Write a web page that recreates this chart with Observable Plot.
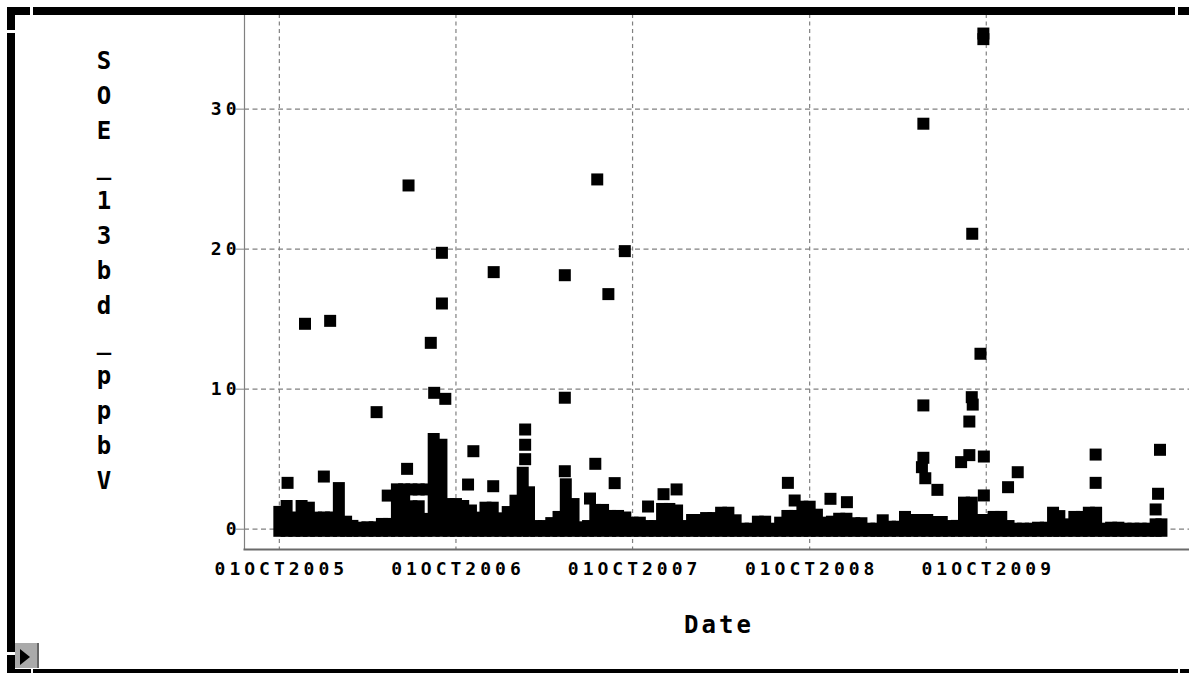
<!DOCTYPE html>
<html><head><meta charset="utf-8">
<script src="https://cdn.jsdelivr.net/npm/d3@7"></script>
<script src="https://cdn.jsdelivr.net/npm/@observablehq/plot@0.6"></script>
<style>
html,body{margin:0;padding:0;background:#fff;}
#wrap{position:relative;width:1189px;height:673px;overflow:hidden;background:#fff;}
#chart{position:absolute;left:0;top:0;}
#chart svg text{letter-spacing:4px;}
.bar{position:absolute;background:#000;}
.gap{position:absolute;background:#fff;}
#ylab{position:absolute;left:92px;top:44px;width:24px;font-family:"DejaVu Sans Mono",monospace;font-size:24px;font-weight:bold;line-height:35px;text-align:center;color:#000;white-space:pre;}
#xlab{position:absolute;left:619px;top:613px;width:200px;font-family:"DejaVu Sans Mono",monospace;font-size:24px;font-weight:bold;line-height:24px;text-align:center;letter-spacing:3px;color:#000;}
#btn{position:absolute;left:15px;top:643px;width:22px;height:25px;background:#aaa;border-right:2px solid #666;}
#tri{position:absolute;left:20px;top:649px;width:0;height:0;border-left:10px solid #000;border-top:8px solid transparent;border-bottom:8px solid transparent;}
</style></head>
<body>
<div id="wrap">
  <div id="chart"></div>
  <div id="ylab"></div>
  <div id="xlab"></div>
  <div class="bar" style="left:7px;top:7px;width:1182px;height:8px"></div>
  <div class="gap" style="left:30px;top:7px;width:3px;height:8px"></div>
  <div class="gap" style="left:1175px;top:7px;width:3px;height:8px"></div>
  <div class="bar" style="left:7px;top:7px;width:8px;height:666px"></div>
  <div class="gap" style="left:7px;top:30px;width:8px;height:3px"></div>
  <div class="bar" style="left:7px;top:669px;width:1182px;height:4px"></div>
  <div class="gap" style="left:31px;top:669px;width:2px;height:4px"></div>
  <div class="gap" style="left:1178px;top:669px;width:2px;height:4px"></div>
  <div class="gap" style="left:7px;top:652px;width:8px;height:3px"></div>
  <div id="btn"></div>
  <div id="tri"></div>
</div>
<script>
// ---- axis text ----
const yLabel = "SOE_13bd_ppbV";
const xLabel = "Date";
const tickDates = ["2005-10-01","2006-10-01","2007-10-01","2008-10-01","2009-10-01"];
const tickLabels = ["01OCT2005","01OCT2006","01OCT2007","01OCT2008","01OCT2009"];
const yTicks = [0, 10, 20, 30];

// ---- dense daily readings: upper envelope of the band (ppbV) per half month ----
const bandDates = [
"2005-10-01","2005-10-16","2005-11-01","2005-11-16","2005-12-01","2005-12-16",
"2006-01-01","2006-01-16","2006-02-01","2006-02-16","2006-03-01","2006-03-16",
"2006-04-01","2006-04-16","2006-05-01","2006-05-16","2006-06-01","2006-06-16",
"2006-07-01","2006-07-16","2006-08-01","2006-08-16","2006-09-01","2006-09-16",
"2006-10-01","2006-10-16","2006-11-01","2006-11-16","2006-12-01","2006-12-16",
"2007-01-01","2007-01-16","2007-02-01","2007-02-16","2007-03-01","2007-03-16",
"2007-04-01","2007-04-16","2007-05-01","2007-05-16","2007-06-01","2007-06-16",
"2007-07-01","2007-07-16","2007-08-01","2007-08-16","2007-09-01","2007-09-16",
"2007-10-01","2007-10-16","2007-11-01","2007-11-16","2007-12-01","2007-12-16",
"2008-01-01","2008-01-16","2008-02-01","2008-02-16","2008-03-01","2008-03-16",
"2008-04-01","2008-04-16","2008-05-01","2008-05-16","2008-06-01","2008-06-16",
"2008-07-01","2008-07-16","2008-08-01","2008-08-16","2008-09-01","2008-09-16",
"2008-10-01","2008-10-16","2008-11-01","2008-11-16","2008-12-01","2008-12-16",
"2009-01-01","2009-01-16","2009-02-01","2009-02-16","2009-03-01","2009-03-16",
"2009-04-01","2009-04-16","2009-05-01","2009-05-16","2009-06-01","2009-06-16",
"2009-07-01","2009-07-16","2009-08-01","2009-08-16","2009-09-01","2009-09-16",
"2009-10-01","2009-10-16","2009-11-01","2009-11-16","2009-12-01","2009-12-16",
"2010-01-01","2010-01-16","2010-02-01","2010-02-16","2010-03-01","2010-03-16",
"2010-04-01","2010-04-16","2010-05-01","2010-05-16","2010-06-01","2010-06-16",
"2010-07-01","2010-07-16","2010-08-01","2010-08-16","2010-09-01","2010-09-16",
"2010-09-28"];
const bandHigh = [
1.2,1.62,0.8,1.62,1.5,0.79,
0.8,0.8,2.9,0.5,0.2,0.07,
0.1,0.1,0.34,0.34,2.81,2.81,
1.6,1.6,0.7,6.4,6.0,1.76,
1.76,1.62,1.3,0.79,1.5,1.5,
0.74,1.19,2.0,4.0,2.6,0.19,
0.19,0.4,0.84,3.17,1.76,0.1,
0.19,1.34,1.34,0.91,0.91,0.8,
0.43,0.43,0.19,0.19,1.41,1.41,
1.3,0.19,0.62,0.62,0.76,0.76,
1.14,1.14,0.6,0.0,0.0,0.5,
0.5,0.0,0.43,0.91,0.91,1.57,
1.57,1.0,0.43,0.5,0.71,0.71,
0.39,0.39,0.0,0.0,0.6,0.14,
0.14,0.84,0.62,0.62,0.62,0.48,
0.48,0.19,0.2,1.86,1.86,0.62,
0.62,0.84,0.84,0.19,0.0,0.0,
0.0,0.07,0.07,1.14,0.9,0.31,
0.84,0.84,1.14,1.14,0.0,0.07,
0.07,0.0,0.0,0.0,0.0,0.31,
0.31];
const baselineLow = -0.15;

// ---- individual readings standing out of the band ----
const dotDates = [
"2005-10-18","2005-11-23","2006-01-01","2006-01-14","2006-04-20","2006-05-13",
"2006-06-22","2006-06-25","2006-07-01","2006-07-16","2006-08-01","2006-08-10",
"2006-08-17","2006-09-02","2006-09-02","2006-09-09","2006-10-26","2006-11-06",
"2006-12-17","2006-12-18","2007-02-21","2007-02-21","2007-02-21","2007-05-14",
"2007-05-14","2007-05-14","2007-07-05","2007-07-16","2007-07-20","2007-08-12",
"2007-08-25","2007-09-15","2007-11-02","2007-12-04","2007-12-31","2008-08-17",
"2008-08-31","2008-11-13","2008-12-17","2009-05-24","2009-05-24","2009-05-24",
"2009-05-21","2009-05-28","2009-06-22","2009-08-10","2009-08-27","2009-08-27",
"2009-09-01","2009-09-03","2009-09-02","2009-09-19","2009-09-25","2009-09-25",
"2009-09-26","2009-09-26","2009-11-15","2009-12-05","2010-05-15","2010-05-15",
"2010-09-16","2010-09-21","2010-09-25"];
const dotValues = [
3.31,14.67,3.76,14.88,8.36,2.4,
4.31,24.55,2.84,2.84,2.84,13.31,
9.74,19.74,16.12,9.31,3.19,5.57,
3.07,18.36,7.12,6.03,5.0,4.14,
9.39,18.14,2.19,4.67,24.98,16.79,
3.29,19.86,1.62,2.5,2.84,3.31,
2.05,2.17,1.93,28.96,8.84,5.1,
4.43,3.64,2.81,4.79,7.69,5.29,
9.43,8.9,21.1,12.53,35.4,35.0,
5.19,2.41,3.0,4.07,5.33,3.31,
1.41,2.53,5.67];

const yDomain = [-1.45, 36.76];
const xDomain = ["2005-07-21", "2010-11-25"];

const parse = s => new Date(s + "T00:00:00Z");
const band = bandDates.map((d, i) => ({date: parse(d), lo: baselineLow, hi: bandHigh[i]}));
const pts = dotDates.map((d, i) => ({date: parse(d), v: dotValues[i]}));
const ticksX = tickDates.map(parse);
const fmtX = d => tickLabels[ticksX.findIndex(t => +t === +d)];

const gridStyle = {stroke: "#808080", strokeOpacity: 1, strokeWidth: 1.2};

const chart = Plot.plot({
  width: 1189, height: 673,
  marginLeft: 244, marginRight: 0, marginTop: 14, marginBottom: 124,
  style: {fontFamily: '"DejaVu Sans Mono", monospace', fontSize: "18px", color: "#000", background: "transparent", overflow: "visible"},
  x: {type: "utc", domain: xDomain.map(parse)},
  y: {domain: yDomain},
  marks: [
    Plot.gridX(ticksX, {...gridStyle, strokeDasharray: "4,3.5"}),
    Plot.gridY(yTicks, {...gridStyle, strokeDasharray: "5,3.5"}),
    Plot.frame({anchor: "left", stroke: "#808080", strokeWidth: 1.2}),
    Plot.frame({anchor: "bottom", stroke: "#6a6a6a", strokeWidth: 2}),
    Plot.ruleX(band, {x: "date", y1: "lo", y2: "hi", stroke: "#000", strokeWidth: 12, strokeLinecap: "square"}),
    Plot.dot(pts, {x: "date", y: "v", symbol: "square", r: 6.77, fill: "#000", stroke: null}),
    Plot.axisX(ticksX, {tickSize: 0, tickPadding: 13, tickFormat: fmtX, label: null, fontWeight: "bold", dx: 2}),
    Plot.axisY(yTicks, {tickSize: 8, tickPadding: -4, stroke: "#808080", label: null, fontWeight: "bold"})
  ]
});
document.getElementById("chart").appendChild(chart);
document.getElementById("ylab").textContent = yLabel.split("").join("\n");
document.getElementById("xlab").textContent = xLabel;
</script>
</body></html>
